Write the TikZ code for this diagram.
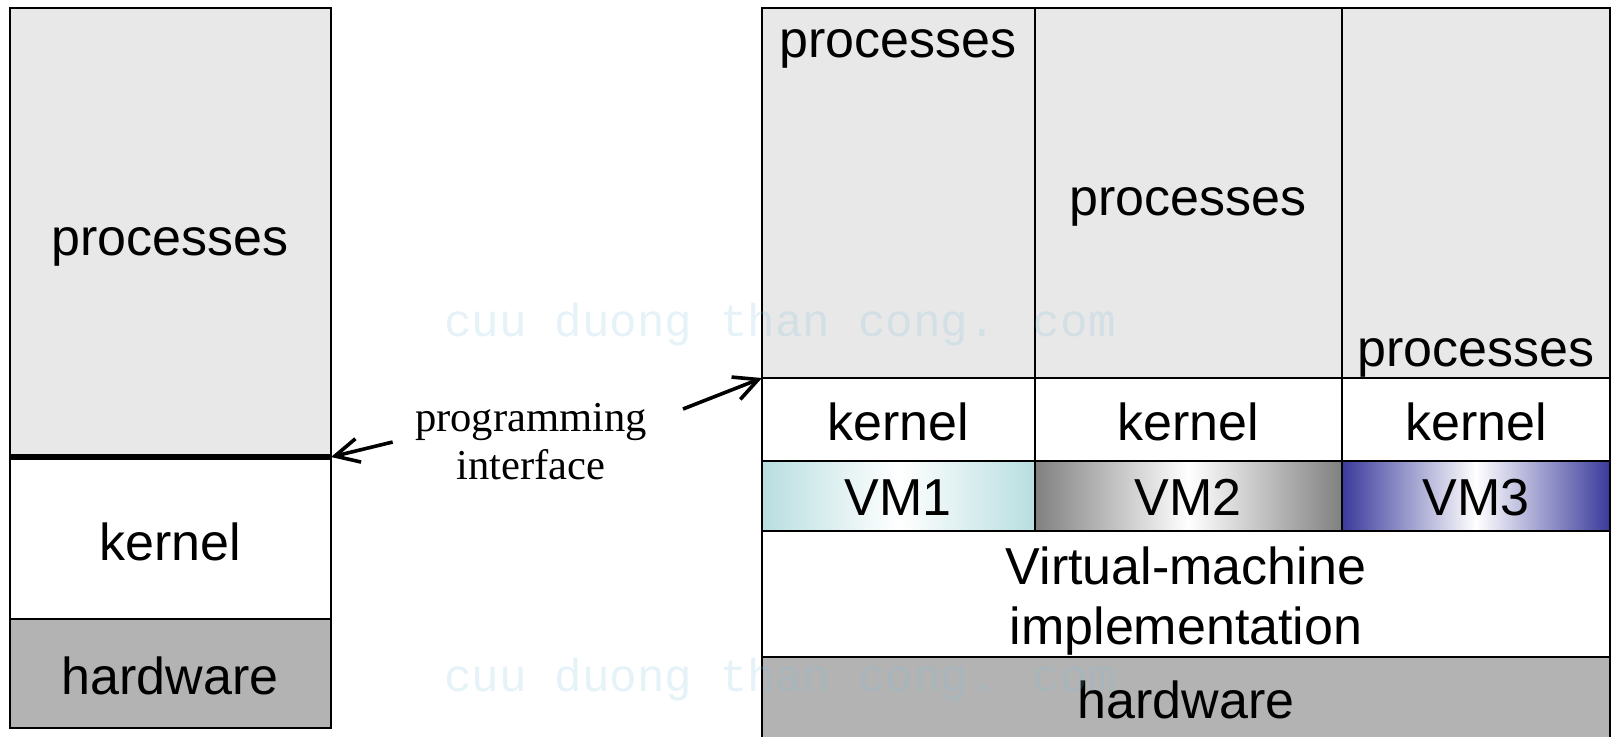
\documentclass[tikz,border=0pt]{standalone}
\usepackage{fontspec}
\setmainfont{Liberation Sans}
\newfontfamily\ifacefont{Liberation Serif}
\newfontfamily\wmfont{Liberation Mono}
\usetikzlibrary{fit,arrows.meta}
\definecolor{procgray}{HTML}{E8E8E8}
\definecolor{hwgray}{HTML}{B3B3B3}
\definecolor{vmteal}{HTML}{B8DEE0}
\definecolor{vmgray}{HTML}{808080}
\definecolor{vmblue}{HTML}{3A3A9C}
\definecolor{wmblue}{RGB}{126,192,222}
\tikzset{
  layer/.style={draw, line width=0.9pt, inner sep=0pt, outer sep=0pt},
  procs/.style={layer, fill=procgray},
  hw/.style={layer, fill=hwgray},
  vm/.style={layer, line width=1.3pt, left color=#1, right color=#1, middle color=white},
  txt/.style={anchor=base, inner sep=0pt, font=\fontsize{26}{30}\selectfont},
  apiarrow/.style={-{Straight Barb[length=12pt,width=12pt]}, line width=1.8pt},
  wm/.style={inner sep=0pt, font=\wmfont\fontsize{23}{23}\selectfont, text=wmblue, text opacity=0.2}
}
\begin{document}
\begin{tikzpicture}[x=0.5pt,y=-0.5pt]
  \useasboundingbox (0,0) rectangle (1616,736);
  % single machine
  \node[procs, fit={(10,8) (331,457)}] (lproc) {};
  \node[layer, fit={(10,457) (331,619)}] (lkern) {};
  \node[hw, fit={(10,619) (331,728)}] (lhw) {};
  \draw[line width=3pt] (lproc.south west) -- (lproc.south east);
  \node[txt] (lprocT) at (170,255) {processes};
  \node[txt] (lkernT) at (170,560) {kernel};
  \node[txt] (lhwT) at (170,694) {hardware};
  % virtual machines
  \node[procs, fit={(762,8) (1035,378)}] (proc1) {};
  \node[procs, fit={(1035,8) (1342,378)}] (proc2) {};
  \node[procs, fit={(1342,8) (1610,378)}] (proc3) {};
  \node[layer, fit={(762,378) (1035,461)}] (kern1) {};
  \node[layer, fit={(1035,378) (1342,461)}] (kern2) {};
  \node[layer, fit={(1342,378) (1610,461)}] (kern3) {};
  \draw[line width=1.3pt] (proc1.south west) -- (proc3.south east);
  \node[vm=vmteal, fit={(762,461) (1035,531)}] (vm1) {};
  \node[vm=vmgray, fit={(1035,461) (1342,531)}] (vm2) {};
  \node[vm=vmblue, fit={(1342,461) (1610,531)}] (vm3) {};
  \node[layer, fit={(762,531) (1610,657)}] (vmm) {};
  \node[hw, fit={(762,657) (1610,742)}] (rhw) {};
  \node[txt] (proc1T) at (898,57) {processes};
  \node[txt] (proc2T) at (1188,215) {processes};
  \node[txt] (proc3T) at (1476,366) {processes};
  \node[txt] (kern1T) at (898,440) {kernel};
  \node[txt] (kern2T) at (1188,440) {kernel};
  \node[txt] (kern3T) at (1476,440) {kernel};
  \node[txt] (vm1T) at (898,515) {VM1};
  \node[txt] (vm2T) at (1188,515) {VM2};
  \node[txt] (vm3T) at (1476,515) {VM3};
  \node[txt] (vmmT1) at (1186,584) {Virtual-machine};
  \node[txt] (vmmT2) at (1186,644) {implementation};
  \node[txt] (rhwT) at (1186,718) {hardware};
  % programming interface
  \node[align=center, inner xsep=11pt, inner ysep=0pt,
        font=\ifacefont\fontsize{21.3}{24}\selectfont] (iface) at (531,442)
        {programming\\interface};
  \coordinate (ifaceR) at (683,409);
  \draw[apiarrow] (iface.west) -- (lproc.south east);
  \draw[apiarrow] (ifaceR) -- (proc1.south west);
  % watermark
  \node[wm] (wm1) at (780,325) {cuu duong than cong. com};
  \node[wm] (wm2) at (780,680) {cuu duong than cong. com};
\end{tikzpicture}
\end{document}
